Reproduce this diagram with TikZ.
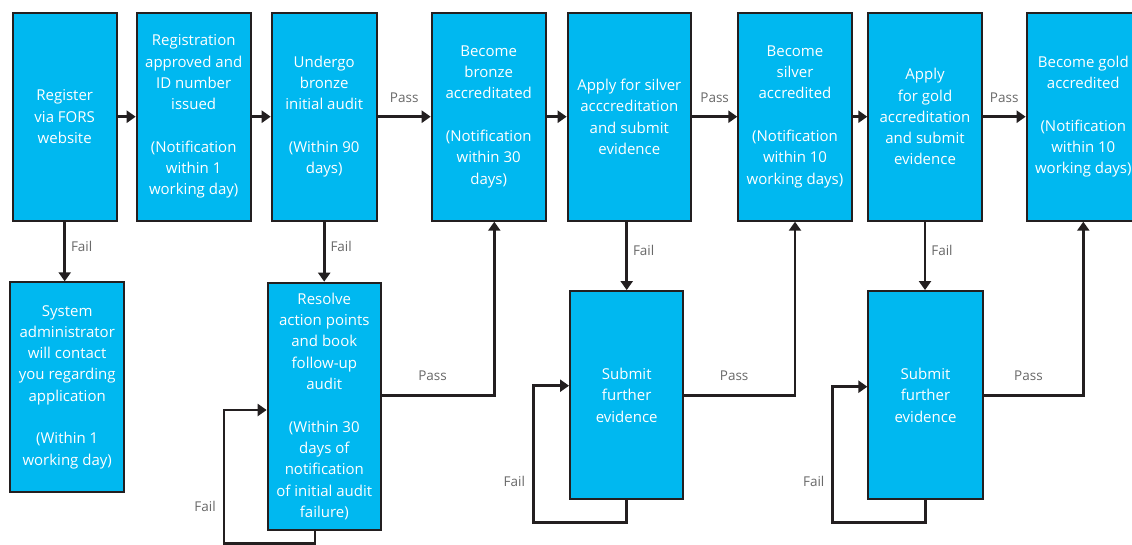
\documentclass[tikz,border=0pt]{standalone}
\usepackage{fontspec}
\setmainfont{Open Sans}
\usetikzlibrary{arrows.meta,calc}
\definecolor{boxfill}{RGB}{0,184,240}
\definecolor{linec}{RGB}{35,31,32}
\definecolor{labc}{RGB}{105,105,105}
\begin{document}
\begin{tikzpicture}[x=1pt,y=-1pt,
  box/.style={draw=linec, line width=2pt, fill=boxfill, text=white, align=center,
    inner sep=0pt, font=\fontsize{15}{21.3}\selectfont},
  arr/.style={draw=linec, line width=2.6pt, -{Triangle[width=12pt,length=9pt]}},
  lab/.style={text=labc, inner sep=1pt, font=\fontsize{13.5}{16}\selectfont}]
\clip (0,0) rectangle (1132,544);
\fill[white] (0,0) rectangle (1132,544);
% top row
\node[box, minimum width=104pt, minimum height=208pt] (b1) at (64.7,116.7) {Register\\via FORS\\website};
\node[box, minimum width=114pt, minimum height=208pt] (b2) at (193.7,116.7) {Registration\\approved and\\ID number\\issued\\[21.3pt](Notification\\within 1\\working day)};
\node[box, minimum width=105pt, minimum height=208pt] (b3) at (324.2,116.7) {Undergo\\bronze\\initial audit\\[21.3pt](Within 90\\days)};
\node[box, minimum width=114pt, minimum height=208pt] (b4) at (488.7,116.7) {Become\\bronze\\accreditated\\[21.3pt](Notification\\within 30\\days)};
\node[box, minimum width=123.3pt, minimum height=208pt] (b5) at (629.3,116.7) {Apply for silver\\acccreditation\\and submit\\evidence};
\node[box, minimum width=113.4pt, minimum height=208pt] (b6) at (795,116.7) {Become\\silver\\accredited\\[21.3pt](Notification\\within 10\\working days)};
\node[box, minimum width=113.4pt, minimum height=208pt] (b7) at (925,116.7) {Apply\\for gold\\accreditation\\and submit\\evidence};
\node[box, minimum width=113.3pt, minimum height=208pt] (b8) at (1083.3,116.7) {Become gold\\accredited\\[21.3pt](Notification\\within 10\\working days)};
% bottom row
\node[box, minimum width=114.3pt, minimum height=209.4pt] (b9) at (67.2,387) {System\\administrator\\will contact\\you regarding\\application\\[21.3pt](Within 1\\working day)};
\node[box, minimum width=113.3pt, minimum height=247.3pt] (b10) at (324.3,406.3) {Resolve\\action points\\and book\\follow-up\\audit\\[21.3pt](Within 30\\days of\\notification\\of initial audit\\failure)};
\node[box, minimum width=113.3pt, minimum height=208.3pt] (b11) at (626.7,395.2) {Submit\\further\\evidence};
\node[box, minimum width=114.3pt, minimum height=208.3pt] (b12) at (925.5,395.2) {Submit\\further\\evidence};
% top arrows
\draw[arr] (b1.east) -- (b2.west);
\draw[arr] (b2.east) -- (b3.west);
\draw[arr] (b3.east) -- node[lab,above=12pt]{Pass} (b4.west);
\draw[arr] (b4.east) -- (b5.west);
\draw[arr] (b5.east) -- node[lab,above=12pt]{Pass} (b6.west);
\draw[arr] (b6.east) -- (b7.west);
\draw[arr] (b7.east) -- node[lab,above=12pt]{Pass} (b8.west);
% fail arrows down
\draw[arr] (b1.south) -- node[lab,right=4pt,pos=0.42]{Fail} (b1.south |- b9.north);
\draw[arr] (b3.south) -- node[lab,right=4pt,pos=0.42]{Fail} (b3.south |- b10.north);
\draw[arr] ([xshift=-2.6pt]b5.south) -- node[lab,right=4pt,pos=0.42]{Fail} (b11.north);
\draw[arr] (b7.south) -- node[lab,right=4pt,pos=0.42]{Fail} (b7.south |- b12.north);
% pass arrows up
\draw[arr] ([yshift=11pt]b10.east) -- node[lab,above=12pt,pos=0.45]{Pass} ([yshift=11pt,xshift=5.6pt]b10.east -| b4.south) -- ([xshift=5.6pt]b4.south);
\draw[arr] (b11.east) -- node[lab,above=12pt,pos=0.45]{Pass} (b11.east -| b6.south) -- (b6.south);
\draw[arr] (b12.east) -- node[lab,above=12pt,pos=0.45]{Pass} (b12.east -| b8.south) -- (b8.south);
% loops
\coordinate (l10a) at (315,543.3);
\coordinate (l10b) at (224,543.3);
\coordinate (l10c) at (224,410);
\draw[arr] ([xshift=-9.3pt]b10.south) -- (l10a) -- (l10b) -- node[lab,left=6pt,pos=0.28]{Fail} (l10c) -- (l10c -| b10.west);
\coordinate (l11a) at (626.7,522.3);
\coordinate (l11b) at (533.3,522.3);
\coordinate (l11c) at (533.3,385.7);
\draw[arr] (b11.south) -- (l11a) -- (l11b) -- node[lab,left=6pt,pos=0.3]{Fail} (l11c) -- (l11c -| b11.west);
\coordinate (l12a) at (925.5,522.7);
\coordinate (l12b) at (832.7,522.7);
\coordinate (l12c) at (832.7,386.7);
\draw[arr] (b12.south) -- (l12a) -- (l12b) -- node[lab,left=6pt,pos=0.3]{Fail} (l12c) -- (l12c -| b12.west);
\end{tikzpicture}
\end{document}
